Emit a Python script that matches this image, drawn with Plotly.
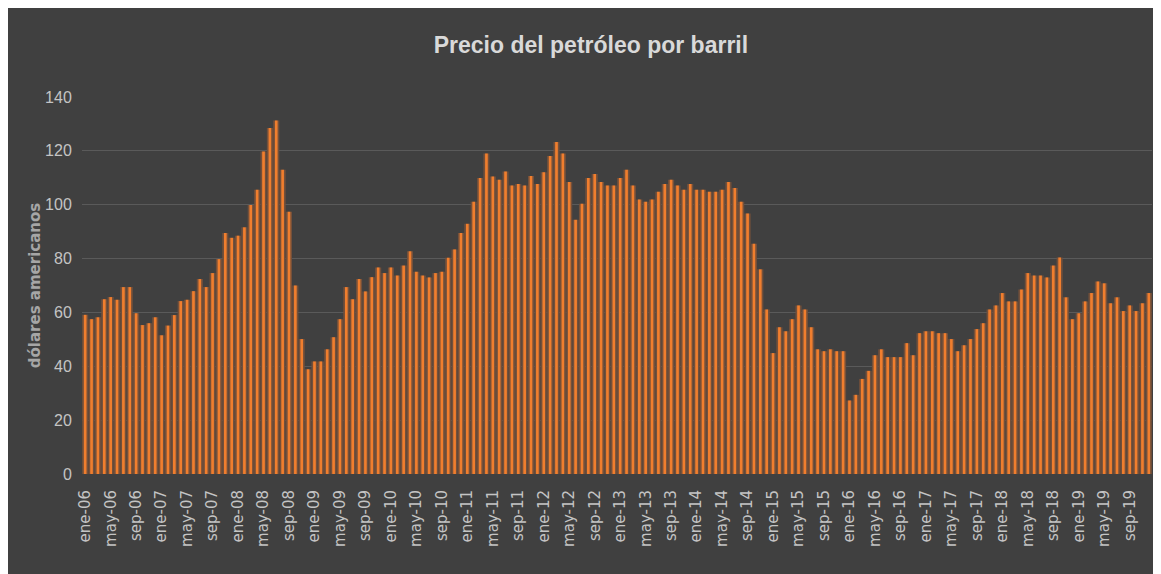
import plotly.graph_objects as go

# meses ene-06 .. dic-19
meses = ["ene", "feb", "mar", "abr", "may", "jun", "jul", "ago", "sep", "oct", "nov", "dic"]
anios = ["06", "07", "08", "09", "10", "11", "12", "13", "14", "15", "16", "17", "18", "19"]
categorias = [m + "-" + a for a in anios for m in meses]
etiquetas = categorias[::4]

# precio mensual (USD por barril)
precio_2006 = [59.1, 57.5, 58.2, 64.9, 65.7, 64.7, 69.4, 69.4, 59.7, 55.3, 56.0, 58.2]
precio_2007 = [51.5, 55.1, 59.0, 64.2, 64.7, 67.9, 72.4, 69.4, 74.6, 79.8, 89.5, 87.7]
precio_2008 = [88.5, 91.6, 99.9, 105.6, 119.8, 128.5, 131.3, 113.0, 97.4, 70.0, 50.1, 38.9]
precio_2009 = [41.8, 41.8, 46.3, 50.8, 57.5, 69.4, 64.9, 72.4, 67.8, 73.1, 76.7, 74.6]
precio_2010 = [76.7, 73.7, 77.4, 82.7, 75.1, 73.7, 73.0, 74.6, 75.1, 80.3, 83.4, 89.5]
precio_2011 = [92.9, 101.1, 109.9, 119.0, 110.5, 109.3, 112.3, 107.1, 107.7, 107.1, 110.7, 107.7]
precio_2012 = [112.1, 118.1, 123.3, 119.0, 108.4, 94.4, 100.4, 109.9, 111.4, 108.4, 107.1, 107.1]
precio_2013 = [109.9, 113.0, 107.1, 101.9, 101.1, 101.9, 104.8, 107.7, 109.3, 107.1, 105.6, 107.7]
precio_2014 = [105.6, 105.6, 104.8, 104.8, 105.6, 108.4, 106.2, 101.1, 96.7, 85.5, 76.0, 61.1]
precio_2015 = [44.9, 54.5, 53.0, 57.5, 62.6, 61.1, 54.5, 46.3, 45.6, 46.3, 45.6, 45.6]
precio_2016 = [27.3, 29.4, 35.3, 38.3, 44.1, 46.3, 43.4, 43.4, 43.4, 48.6, 44.1, 52.3]
precio_2017 = [53.0, 53.0, 52.3, 52.3, 50.1, 45.6, 47.8, 50.1, 53.8, 56.0, 61.1, 62.6]
precio_2018 = [67.2, 64.1, 64.1, 68.5, 74.6, 73.7, 73.7, 73.0, 77.4, 80.4, 65.6, 57.5]
precio_2019 = [59.7, 64.1, 67.2, 71.5, 70.8, 63.4, 65.6, 60.5, 62.6, 60.5, 63.4, 67.2]

precio = (precio_2006 + precio_2007 + precio_2008 + precio_2009 + precio_2010
          + precio_2011 + precio_2012 + precio_2013 + precio_2014 + precio_2015
          + precio_2016 + precio_2017 + precio_2018 + precio_2019)

fondo = "#404040"
naranja = "#F07E2E"

fig = go.Figure()

# halo marron alrededor de cada barra
fig.add_trace(go.Bar(x=categorias, y=precio, width=0.95,
                     marker=dict(color="#74503A", line=dict(width=0)),
                     hoverinfo="skip", showlegend=False))
# barra naranja
fig.add_trace(go.Bar(x=categorias, y=precio, width=0.42,
                     marker=dict(color=naranja, line=dict(width=0)),
                     name="Precio", showlegend=False))

# la pagina deja 8px blancos arriba y a la izquierda (margen del body)
fig.update_layout(
    width=1153, height=566,
    barmode="overlay",
    paper_bgcolor=fondo,
    plot_bgcolor=fondo,
    margin=dict(l=74, r=9, t=89, b=100),
    title=dict(text="Precio del petróleo por barril",
               x=0.5056, xref="container", xanchor="center",
               y=0.935, yanchor="middle",
               font=dict(family="Liberation Sans", size=23, color="#D9D9D9", weight="bold")),
)

fig.update_xaxes(
    type="category",
    tickmode="array", tickvals=etiquetas, ticktext=etiquetas,
    tickangle=-90,
    ticks="outside", ticklen=9, tickcolor="rgba(0,0,0,0)",
    tickfont=dict(family="DejaVu Sans", size=15, color="#C4C4C4"),
    showgrid=False, showline=False, zeroline=False,
)

fig.update_yaxes(
    range=[0, 140], dtick=20,
    showgrid=True, gridcolor="#5A5A5A", gridwidth=1,
    zeroline=False, showline=False,
    tickfont=dict(family="Liberation Sans", size=16, color="#C4C4C4"),
    ticks="outside", ticklen=6, tickcolor="rgba(0,0,0,0)",
    title=dict(text="dólares americanos", standoff=0,
               font=dict(family="DejaVu Sans", size=15, color="#A6A6A6", weight="bold")),
)

fig.write_html("out.html")
